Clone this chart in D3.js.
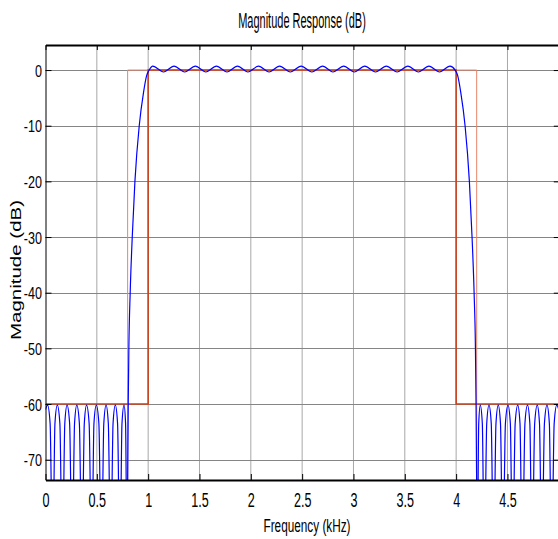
<!DOCTYPE html>
<html>
<head>
<meta charset="utf-8">
<script src="https://cdn.jsdelivr.net/npm/d3@7"></script>
<style>
  body { margin: 0; background: #fff; }
  text { font-family: "Liberation Sans", Arial, sans-serif; fill: #000; }
</style>
</head>
<body>
<div id="chart"></div>
<script>
// frequency (kHz) and magnitude (dB), band by band
const stopLowFreq = [
  0.00, 0.02, 0.045, 0.07, 0.092, 0.115, 0.14, 0.165, 0.188, 0.21, 0.235, 0.26,
  0.283, 0.305, 0.33, 0.355, 0.378, 0.40, 0.425, 0.45, 0.472, 0.495, 0.52, 0.545,
  0.568, 0.59, 0.612, 0.635, 0.658, 0.68, 0.702, 0.725, 0.745, 0.765, 0.78, 0.795
];
const stopLowDb = [
  -61, -60.2, -63.5, -90, -63.5, -60.2, -63.5, -90, -63.5, -60.2, -63.5, -90,
  -63.5, -60.2, -63.5, -90, -63.5, -60.2, -63.5, -90, -63.5, -60.2, -63.5, -90,
  -63.5, -60.2, -63.5, -90, -63.5, -60.2, -63.5, -90, -63.5, -60.2, -63.5, -90
];
const riseFreq = [0.800, 0.806, 0.812, 0.825, 0.845, 0.871, 0.913, 0.955, 0.985, 1.01];
const riseDb = [-75, -60, -50, -40, -30, -20, -10, -4, -1, 0];
const passFreq = [
  1.045, 1.15, 1.252, 1.356, 1.46, 1.562, 1.665, 1.768, 1.87, 1.972, 2.075, 2.178,
  2.28, 2.385, 2.49, 2.595, 2.70, 2.80, 2.905, 3.008, 3.11, 3.215, 3.32, 3.425,
  3.53, 3.632, 3.735, 3.838, 3.94
];
const passDb = [
  0.7, -0.35, 0.7, -0.35, 0.7, -0.35, 0.7, -0.35, 0.7, -0.35, 0.7, -0.35,
  0.7, -0.35, 0.7, -0.35, 0.7, -0.35, 0.7, -0.35, 0.7, -0.35, 0.7, -0.35,
  0.7, -0.35, 0.7, -0.35, 0.7
];
const fallFreq = [3.99, 4.015, 4.045, 4.087, 4.129, 4.155, 4.175, 4.188, 4.194, 4.200];
const fallDb = [0, -1, -4, -10, -20, -30, -40, -50, -60, -75];
const stopHighFreq = [
  4.205, 4.22, 4.235, 4.255, 4.275, 4.298, 4.32, 4.342, 4.365, 4.388, 4.41, 4.432,
  4.455, 4.48, 4.505, 4.528, 4.55, 4.575, 4.60, 4.622, 4.645, 4.67, 4.695, 4.718,
  4.74, 4.765, 4.79, 4.812, 4.835, 4.86, 4.885, 4.908, 4.93, 4.955, 4.98, 5.00
];
const stopHighDb = [
  -90, -63.5, -60.2, -63.5, -90, -63.5, -60.2, -63.5, -90, -63.5, -60.2, -63.5,
  -90, -63.5, -60.2, -63.5, -90, -63.5, -60.2, -63.5, -90, -63.5, -60.2, -63.5,
  -90, -63.5, -60.2, -63.5, -90, -63.5, -60.2, -63.5, -90, -63.5, -60.2, -61
];

// specification mask
const maskOuter = [[0.8, -80], [0.8, 0], [4.2, 0], [4.2, -80]];
const maskInner = [[0, -60], [1, -60], [1, 0], [4, 0], [4, -60], [5, -60]];

const xTicks = [0, 0.5, 1, 1.5, 2, 2.5, 3, 3.5, 4, 4.5, 5];
const xLabels = ['0', '0.5', '1', '1.5', '2', '2.5', '3', '3.5', '4', '4.5', ''];
const yTicks = [0, -10, -20, -30, -40, -50, -60, -70];

const freq = [].concat(stopLowFreq, riseFreq, passFreq, fallFreq, stopHighFreq);
const magDb = [].concat(stopLowDb, riseDb, passDb, fallDb, stopHighDb);

const W = 558, H = 539;
const plotLeft = 45.5, plotRight = 558.8, plotTop = 45, plotBottom = 480;

const svg = d3.select('#chart').append('svg')
    .attr('width', W)
    .attr('height', H);

const x = d3.scaleLinear().domain([0, 5]).range([plotLeft, plotRight]);
const y = d3.scaleLinear().domain([-73.65, 4.5]).range([plotBottom, plotTop]);

svg.append('defs').append('clipPath')
    .attr('id', 'plot-clip')
    .append('rect')
    .attr('x', plotLeft)
    .attr('y', plotTop)
    .attr('width', plotRight - plotLeft)
    .attr('height', plotBottom - plotTop);

// grid
svg.append('g')
    .selectAll('line')
    .data(xTicks.slice(1))
    .join('line')
    .attr('x1', d => x(d)).attr('x2', d => x(d))
    .attr('y1', plotTop).attr('y2', plotBottom)
    .attr('stroke', '#a8a8a8')
    .attr('stroke-width', 1);

svg.append('g')
    .selectAll('line')
    .data(yTicks)
    .join('line')
    .attr('x1', plotLeft).attr('x2', plotRight)
    .attr('y1', d => Math.round(y(d)) + 0.5).attr('y2', d => Math.round(y(d)) + 0.5)
    .attr('stroke', '#858585')
    .attr('stroke-width', 1);

const plot = svg.append('g').attr('clip-path', 'url(#plot-clip)');

const maskLine = d3.line().x(d => x(d[0])).y(d => y(d[1]));

plot.append('path')
    .attr('d', maskLine(maskOuter))
    .attr('fill', 'none')
    .attr('stroke', '#e8846a')
    .attr('stroke-width', 1);

plot.append('path')
    .attr('d', maskLine(maskInner))
    .attr('fill', 'none')
    .attr('stroke', '#c8401c')
    .attr('stroke-width', 1.6);

const response = d3.line()
    .x((d, i) => x(freq[i]))
    .y(d => y(d))
    .curve(d3.curveMonotoneX);

plot.append('path')
    .attr('d', response(magDb))
    .attr('fill', 'none')
    .attr('stroke', '#0000ff')
    .attr('stroke-width', 1.2);

// axes
const xAxisBottom = svg.append('g')
    .attr('transform', `translate(0, ${plotBottom})`)
    .call(d3.axisBottom(x)
        .tickValues(xTicks)
        .tickSize(-6)
        .tickSizeOuter(0)
        .tickFormat((d, i) => xLabels[i]));

xAxisBottom.select('.domain').attr('stroke-width', 2);
xAxisBottom.selectAll('text')
    .attr('y', 27)
    .attr('dy', 0)
    .attr('font-size', 21)
    .attr('transform', 'scale(0.6,1)');

const xAxisTop = svg.append('g')
    .attr('transform', `translate(0, ${plotTop})`)
    .call(d3.axisTop(x)
        .tickValues(xTicks)
        .tickSize(-5)
        .tickSizeOuter(0)
        .tickFormat(''));
xAxisTop.select('.domain').attr('stroke-width', 2);

const yAxisLeft = svg.append('g')
    .attr('transform', `translate(${plotLeft}, 0)`)
    .call(d3.axisLeft(y)
        .tickValues(yTicks)
        .tickSize(-6)
        .tickSizeOuter(0)
        .tickFormat(d => String(d)));

yAxisLeft.selectAll('text')
    .attr('x', -3.5 / 0.74)
    .attr('dy', '0.36em')
    .attr('font-size', 17)
    .attr('transform', 'scale(0.74,1)');

svg.append('g')
    .attr('transform', `translate(${plotRight}, 0)`)
    .call(d3.axisRight(y)
        .tickValues(yTicks)
        .tickSize(-5)
        .tickSizeOuter(0)
        .tickFormat(''));

// titles
svg.append('text')
    .attr('transform', 'translate(302, 28) scale(0.5,1)')
    .attr('text-anchor', 'middle')
    .attr('font-size', 22)
    .text('Magnitude Response (dB)');

svg.append('text')
    .attr('transform', 'translate(307, 532) scale(0.62,1)')
    .attr('text-anchor', 'middle')
    .attr('font-size', 19)
    .text('Frequency (kHz)');

svg.append('text')
    .attr('transform', 'translate(21, 270) scale(0.68,1) rotate(-90)')
    .attr('text-anchor', 'middle')
    .attr('font-size', 20.5)
    .text('Magnitude (dB)');
</script>
</body>
</html>
